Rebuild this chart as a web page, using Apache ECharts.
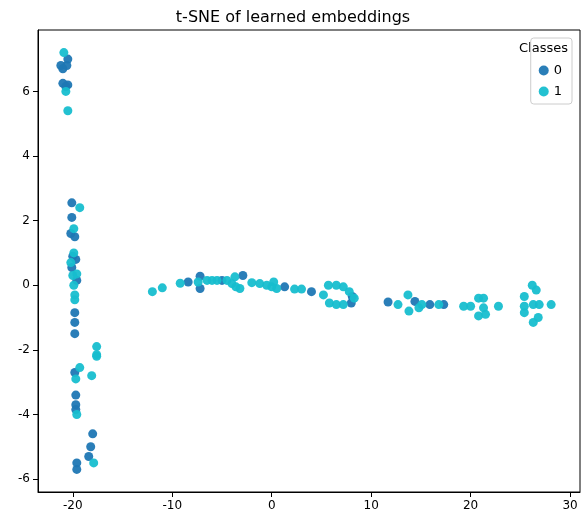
<!DOCTYPE html>
<html><head><meta charset="utf-8">
<script src="https://cdn.jsdelivr.net/npm/echarts@6/dist/echarts.min.js"></script>
<style>html,body{margin:0;padding:0;background:#fff}#c{width:586px;height:517px}</style>
</head><body><div id="c"></div>
<script>
const class0 = [[-21.2,6.8],[-21.0,6.7],[-20.5,7.0],[-20.6,6.8],[-21.0,6.25],[-20.5,6.2],[-20.7,6.15],
[-20.1,2.55],[-20.1,2.1],[-20.2,1.6],[-19.8,1.5],[-20.0,0.9],[-19.7,0.8],[-20.1,0.55],[-19.6,0.15],[-19.8,-0.85],[-19.8,-1.15],[-19.8,-1.5],[-19.8,-2.7],[-19.7,-3.4],[-19.7,-3.7],[-19.7,-3.85],[-18.0,-4.6],[-18.2,-5.0],[-18.4,-5.3],[-19.6,-5.5],[-19.6,-5.7],
[-8.4,0.1],[-7.2,0.28],[-7.2,-0.1],[-5.0,0.15],[-2.9,0.3],[1.3,-0.05],[4.0,-0.2],[8.1,-0.35],[8.0,-0.55],
[11.7,-0.52],[14.4,-0.5],[15.9,-0.6],[17.3,-0.6]];
const class1 = [[-20.9,7.2],[-20.7,6.0],[-20.5,5.4],
[-19.3,2.4],[-19.9,1.75],[-19.9,1.0],[-20.2,0.7],[-19.6,0.35],[-20.0,0.3],[-19.9,0.0],[-19.8,-0.3],[-19.8,-0.45],[-17.6,-1.9],[-17.6,-2.2],[-17.6,-2.15],[-19.3,-2.55],[-19.7,-2.9],[-18.1,-2.8],[-19.6,-4.0],[-17.9,-5.5],
[-12.0,-0.2],[-11.0,-0.08],[-9.2,0.06],[-7.4,0.1],[-6.5,0.15],[-6.0,0.15],[-5.5,0.15],[-4.5,0.15],[-4.0,0.05],[-3.7,0.26],[-3.2,-0.1],[-3.6,-0.05],[-2.0,0.08],[-1.2,0.05],[-0.5,0.0],[0.2,0.1],[0.5,-0.1],[0.0,-0.05],[2.3,-0.12],[3.0,-0.12],[5.2,-0.3],[5.7,0.0],[6.5,0.0],[7.2,-0.05],[7.8,-0.2],[8.3,-0.4],[5.8,-0.55],[6.5,-0.6],[7.2,-0.6],
[12.7,-0.6],[13.7,-0.3],[13.8,-0.8],[14.8,-0.7],[15.1,-0.6],[16.8,-0.6],[19.3,-0.65],[20.0,-0.65],[20.8,-0.4],[21.3,-0.4],[21.3,-0.7],[20.8,-0.95],[21.5,-0.9],[22.8,-0.65],
[25.4,-0.35],[25.4,-0.65],[25.4,-0.85],[26.2,0.0],[26.6,-0.15],[26.3,-0.6],[26.9,-0.6],[28.1,-0.6],[26.3,-1.15],[26.8,-1.0]];
const xTicks = [-20,-10,0,10,20,30];
const yTicks = [-6,-4,-2,0,2,4,6];
const chart = echarts.init(document.getElementById('c'));
const ax = {color:'#000'};
chart.setOption({
  animation:false,
  title:{text:'t-SNE of learned embeddings',left:'center',top:5,textStyle:{fontFamily:'DejaVu Sans',fontSize:16,fontWeight:'normal',color:'#000'}},
  legend:{right:14,top:38,orient:'vertical',itemWidth:10,itemHeight:10,itemGap:8,
    textStyle:{fontFamily:'DejaVu Sans',fontSize:13,color:'#000'},
    borderColor:'#ccc',borderWidth:1,borderRadius:3,padding:[26,10,6,8],data:['0','1']},
  graphic:[{type:'text',right:18,top:42,style:{text:'Classes',fontFamily:'DejaVu Sans',fontSize:13,fill:'#000'}}],
  grid:{left:38,right:6,top:30,bottom:25},
  xAxis:{type:'value',min:-23.5,max:31,splitLine:{show:false},
    axisLine:{onZero:false,lineStyle:ax},axisTick:{customValues:xTicks,lineStyle:ax},
    axisLabel:{customValues:xTicks,color:'#000',fontFamily:'DejaVu Sans',fontSize:12}},
  yAxis:{type:'value',min:-6.4,max:7.9,splitLine:{show:false},
    axisLine:{show:true,onZero:false,lineStyle:ax},axisTick:{show:true,customValues:yTicks,lineStyle:ax},
    axisLabel:{customValues:yTicks,color:'#000',fontFamily:'DejaVu Sans',fontSize:12}},
  series:[
    {name:'0',type:'scatter',data:class0,symbolSize:9,itemStyle:{color:'#1f77b4',opacity:0.95}},
    {name:'1',type:'scatter',data:class1,symbolSize:9,itemStyle:{color:'#17becf',opacity:0.95}},
    {type:'line',data:[],markLine:{}}
  ]
});
// frame
chart.setOption({graphic:[{type:'text',right:18,top:42,style:{text:'Classes',fontFamily:'DejaVu Sans',fontSize:13,fill:'#000'}},
  {type:'rect',shape:{x:38,y:30,width:586-44,height:517-55},style:{fill:'none',stroke:'#000',lineWidth:1},silent:true}]});
</script></body></html>
